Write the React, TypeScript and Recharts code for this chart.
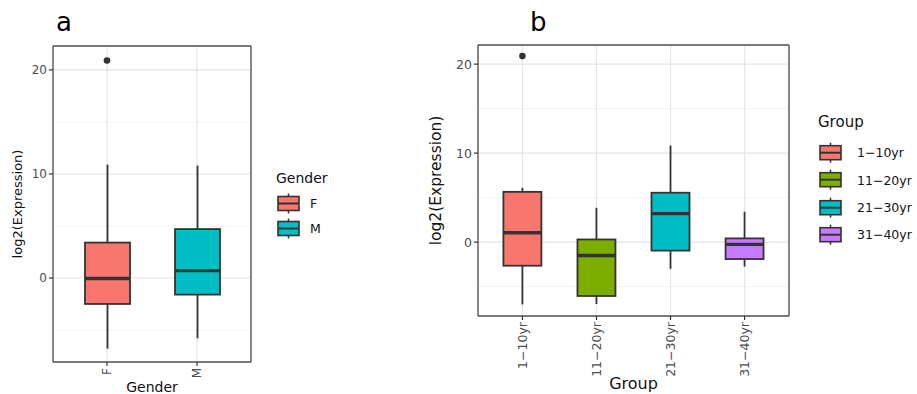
import {
  Bar,
  CartesianGrid,
  Cell,
  ComposedChart,
  Legend,
  Scatter,
  XAxis,
  YAxis,
} from "recharts";

const FONT = "'DejaVu Sans', 'Liberation Sans', Arial, sans-serif";

// panel a - by gender
const genderCats = ["F", "M"];
const genderLow = [-6.8, -5.8];
const genderQ1 = [-2.5, -1.6];
const genderMed = [-0.05, 0.7];
const genderQ3 = [3.4, 4.7];
const genderHigh = [10.9, 10.8];
const genderOut = [20.9, null];
const genderColors = ["#F8766D", "#00BFC4"];

// panel b - by age group
const groupCats = ["1−10yr", "11−20yr", "21−30yr", "31−40yr"];
const groupLow = [-7.0, -6.95, -3.0, -2.75];
const groupQ1 = [-2.65, -6.05, -0.95, -1.9];
const groupMed = [1.05, -1.5, 3.2, -0.25];
const groupQ3 = [5.65, 0.3, 5.55, 0.42];
const groupHigh = [6.1, 3.85, 10.85, 3.4];
const groupOut = [20.9, null, null, null];
const groupColors = ["#F8766D", "#7CAE00", "#00BFC4", "#C77CFF"];

const yTicks = [0, 10, 20];
const yMinor = [-5, 5, 15];

const buildRows = (cats, lo, q1, med, q3, hi, out) =>
  cats.map((name, i) => ({
    name,
    lo: lo[i],
    q1: q1[i],
    med: med[i],
    q3: q3[i],
    hi: hi[i],
    out: out[i],
  }));

const genderRows = buildRows(genderCats, genderLow, genderQ1, genderMed, genderQ3, genderHigh, genderOut);
const groupRows = buildRows(groupCats, groupLow, groupQ1, groupMed, groupQ3, groupHigh, groupOut);

const INK = "#333333";
const FRAME = { stroke: "#4D4D4D", strokeWidth: 1.3 };

// whisker-to-whisker bar, the box parts are placed by interpolating inside it
const BoxShape = (props: any) => {
  const { x, y, width, height, payload, fill } = props;
  const top = Math.min(y, y + height);
  const bottom = Math.max(y, y + height);
  const span = payload.hi - payload.lo;
  const py = (v: number) => top + ((payload.hi - v) / span) * (bottom - top);
  const cx = x + width / 2;
  return (
    <g>
      <line x1={cx} x2={cx} y1={py(payload.hi)} y2={py(payload.q3)} stroke={INK} strokeWidth={1.8} />
      <line x1={cx} x2={cx} y1={py(payload.q1)} y2={py(payload.lo)} stroke={INK} strokeWidth={1.8} />
      <rect
        x={x}
        y={py(payload.q3)}
        width={width}
        height={py(payload.q1) - py(payload.q3)}
        fill={fill}
        stroke={INK}
        strokeWidth={1.8}
      />
      <line x1={x} x2={x + width} y1={py(payload.med)} y2={py(payload.med)} stroke={INK} strokeWidth={3.4} />
    </g>
  );
};

const OutlierDot = (props: any) => {
  const { cx, cy, payload } = props;
  if (payload == null || payload.out == null) return <g />;
  return <circle cx={cx} cy={cy} r={3.3} fill={INK} />;
};

const KeyLegend = ({ title, items, colors, titleSize, textSize, titleH, rowH, keyW, gap }) => (
  <div style={{ fontFamily: FONT, color: "#111" }}>
    <div style={{ fontSize: titleSize, lineHeight: `${titleSize + 2}px`, height: titleH, whiteSpace: "nowrap" }}>
      {title}
    </div>
    {items.map((it, i) => (
      <div key={it} style={{ display: "flex", alignItems: "center", height: rowH }}>
        <svg width={keyW + 3} height={rowH} style={{ display: "block" }}>
          <line x1={keyW / 2 + 2} x2={keyW / 2 + 2} y1={rowH / 2 - 10} y2={rowH / 2 + 10} stroke={INK} strokeWidth={1.5} />
          <rect x={2} y={rowH / 2 - 7} width={keyW} height={14} fill={colors[i]} stroke={INK} strokeWidth={1.6} />
          <line x1={2} x2={keyW + 2} y1={rowH / 2} y2={rowH / 2} stroke={INK} strokeWidth={2} />
        </svg>
        <span style={{ marginLeft: gap, fontSize: textSize, whiteSpace: "nowrap" }}>{it}</span>
      </div>
    ))}
  </div>
);

const Panel = ({
  rows,
  colors,
  domain,
  barSize,
  pad,
  width,
  height,
  margin,
  yAxisWidth,
  xAxisHeight,
  tickFont,
  yTitle,
  yTitleFont,
  yTitleX,
  xTitle,
  xTitleFont,
  xTitleY,
  legend,
}) => (
  <ComposedChart width={width} height={height} data={rows} margin={margin}>
    <CartesianGrid
      vertical={false}
      horizontalValues={yMinor}
      stroke="#F0F0F0"
      strokeWidth={0.8}
    />
    <CartesianGrid horizontalValues={yTicks} stroke="#E4E4E4" strokeWidth={1.1} />
    <XAxis
      dataKey="name"
      type="category"
      height={xAxisHeight}
      padding={{ left: pad, right: pad }}
      axisLine={FRAME}
      tickSize={4}
      tickLine={{ stroke: INK, strokeWidth: 1.2 }}
      interval={0}
      tick={(p: any) => (
        <text
          x={p.x}
          y={p.y}
          transform={`rotate(-90 ${p.x} ${p.y})`}
          textAnchor="end"
          dominantBaseline="central"
          fontSize={tickFont}
          fontFamily={FONT}
          fill="#4D4D4D"
        >
          {p.payload.value}
        </text>
      )}
      label={{
        content: (p: any) => {
          const vb = p.viewBox || { x: 0, y: 0, width: 0, height: 0 };
          return (
            <text
              x={vb.x + vb.width / 2}
              y={vb.y + xTitleY}
              textAnchor="middle"
              fontSize={xTitleFont}
              fontFamily={FONT}
              fill="#111"
            >
              {xTitle}
            </text>
          );
        },
      }}
    />
    {/* top and right edges of the panel frame */}
    <XAxis
      xAxisId="frameTop"
      orientation="top"
      dataKey="name"
      type="category"
      height={1}
      tick={false}
      tickLine={false}
      axisLine={FRAME}
    />
    <YAxis
      yAxisId="frameRight"
      orientation="right"
      type="number"
      domain={domain}
      width={1}
      tick={false}
      tickLine={false}
      axisLine={FRAME}
    />
    <YAxis
      type="number"
      domain={domain}
      ticks={yTicks}
      width={yAxisWidth}
      axisLine={FRAME}
      tickSize={4}
      tickLine={{ stroke: INK, strokeWidth: 1.2 }}
      tick={{ fontSize: tickFont, fontFamily: FONT, fill: "#4D4D4D" }}
      allowDataOverflow
      label={{
        content: (p: any) => {
          const vb = p.viewBox || { x: 0, y: 0, width: 0, height: 0 };
          const cx = vb.x + yTitleX;
          const cy = vb.y + vb.height / 2;
          return (
            <text
              x={cx}
              y={cy}
              transform={`rotate(-90 ${cx} ${cy})`}
              textAnchor="middle"
              dominantBaseline="central"
              fontSize={yTitleFont}
              fontFamily={FONT}
              fill="#111"
            >
              {yTitle}
            </text>
          );
        },
      }}
    />
    <Bar
      dataKey={(d: any) => [d.lo, d.hi]}
      barSize={barSize}
      shape={BoxShape}
      isAnimationActive={false}
    >
      {rows.map((r, i) => (
        <Cell key={r.name} fill={colors[i]} />
      ))}
    </Bar>
    <Scatter dataKey="out" shape={OutlierDot} isAnimationActive={false} />
    <Legend
      layout="vertical"
      align="center"
      verticalAlign="middle"
      wrapperStyle={{ left: legend.left, top: legend.top, width: "auto", height: "auto" }}
      content={() => <KeyLegend {...legend} colors={colors} />}
    />
  </ComposedChart>
);

export default function App() {
  return (
    <div
      style={{
        position: "absolute",
        left: 0,
        top: 0,
        width: 917,
        height: 394,
        background: "#fff",
        overflow: "hidden",
        fontFamily: FONT,
      }}
    >
      <div style={{ position: "absolute", left: 0, top: 0 }}>
        <Panel
          rows={genderRows}
          colors={genderColors}
          domain={[-8.08, 22.3]}
          barSize={45}
          pad={9}
          width={330}
          height={394}
          margin={{ top: 45, right: 78, bottom: 0, left: 0 }}
          yAxisWidth={53}
          xAxisHeight={32}
          tickFont={12}
          yTitle="log2(Expression)"
          yTitleFont={13}
          yTitleX={17}
          xTitle="Gender"
          xTitleFont={14}
          xTitleY={30}
          legend={{
            left: 276,
            top: 170,
            title: "Gender",
            items: genderCats,
            titleSize: 14,
            textSize: 12.5,
            titleH: 21,
            rowH: 25,
            keyW: 21,
            gap: 10,
          }}
        />
      </div>
      <div style={{ position: "absolute", left: 420, top: 0 }}>
        <Panel
          rows={groupRows}
          colors={groupColors}
          domain={[-8.3, 22.15]}
          barSize={38}
          pad={7.4}
          width={497}
          height={394}
          margin={{ top: 44, right: 127, bottom: 0, left: 0 }}
          yAxisWidth={58}
          xAxisHeight={78}
          tickFont={12.5}
          yTitle="log2(Expression)"
          yTitleFont={15.5}
          yTitleX={16}
          xTitle="Group"
          xTitleFont={16}
          xTitleY={73}
          legend={{
            left: 398,
            top: 114,
            title: "Group",
            items: groupCats,
            titleSize: 15,
            textSize: 12.5,
            titleH: 25,
            rowH: 27.4,
            keyW: 21,
            gap: 15,
          }}
        />
      </div>
      <div style={{ position: "absolute", left: 56, top: 4, fontSize: 26, lineHeight: "36px", color: "#000" }}>a</div>
      <div style={{ position: "absolute", left: 530, top: 4, fontSize: 26, lineHeight: "36px", color: "#000" }}>b</div>
    </div>
  );
}
